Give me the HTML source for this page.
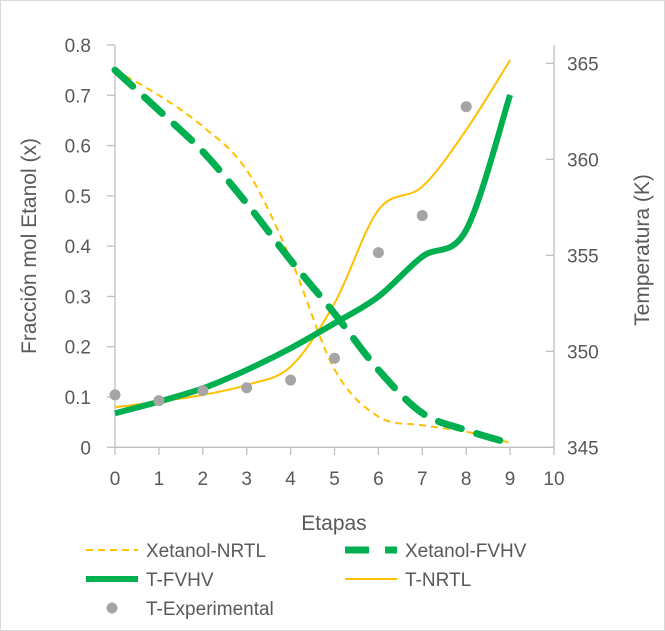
<!DOCTYPE html>
<html><head><meta charset="utf-8"><style>
body{margin:0;background:#fff}
svg{display:block;font-family:"Liberation Sans",sans-serif}
</style></head><body>
<svg id="c" width="665" height="631" viewBox="0 0 665 631">
<rect x="0.5" y="0.5" width="664" height="630" fill="#fff" stroke="#d9d9d9"/>
<g id="axes"></g><g id="series"></g><g id="legend"></g>
</svg>
<script>
const etapas=[0,1,2,3,4,5,6,7,8,9];
const xNRTL=[0.75,0.70,0.638,0.551,0.375,0.155,0.061,0.044,0.031,0.009];
const xFVHV=[0.75,0.67,0.588,0.485,0.372,0.266,0.154,0.068,0.034,0.008];
const tFVHV=[346.77,347.38,348.07,349.03,350.16,351.46,352.85,354.93,356.32,363.35];
const tNRTL=[347.08,347.38,347.73,348.25,349.2,352.5,357.36,358.58,361.53,365.17];
const expX=[0,1,2,3,4,5,6,7,8];
const tExp=[347.73,347.43,347.95,348.1,348.5,349.64,355.14,357.07,362.74];
const xTicks=[0,1,2,3,4,5,6,7,8,9,10];
const yTicks=[0,0.1,0.2,0.3,0.4,0.5,0.6,0.7,0.8];
const y2Ticks=[345,350,355,360,365];

const X=v=>115+v*43.9, Y=v=>447.3-v/0.8*402.3, Y2=v=>447.3-(v-345)*19.2;
const NS="http://www.w3.org/2000/svg";
function mk(t,a,p){const e=document.createElementNS(NS,t);for(const k in a)e.setAttribute(k,a[k]);p.appendChild(e);return e;}
const ax=document.getElementById('axes'),se=document.getElementById('series'),lg=document.getElementById('legend');
const G="#bfbfbf";
let e=mk('line',{x1:115,y1:447.3,x2:554,y2:447.3,stroke:G,'stroke-width':1.3},ax);

e=mk('line',{x1:115,y1:45,x2:115,y2:447.3,stroke:G,'stroke-width':1.3},ax);

e=mk('line',{x1:554,y1:45,x2:554,y2:447.3,stroke:G,'stroke-width':1.3},ax);

xTicks.forEach(v=>{mk('line',{x1:X(v),x2:X(v),y1:447,y2:455,stroke:G,'stroke-width':1.3},ax);
 const t=mk('text',{x:X(v),y:485,'text-anchor':'middle','font-size':19,fill:'#595959'},ax);t.textContent=v;
 });
yTicks.forEach(v=>{mk('line',{x1:107,x2:115,y1:Y(v),y2:Y(v),stroke:G,'stroke-width':1.3},ax);
 const t=mk('text',{x:91,y:Y(v)+7,'text-anchor':'end','font-size':19,fill:'#595959'},ax);t.textContent=v;
 });
y2Ticks.forEach(v=>{mk('line',{x1:546,x2:554,y1:Y2(v),y2:Y2(v),stroke:G,'stroke-width':1.3},ax);
 const t=mk('text',{x:567,y:Y2(v)+7,'font-size':19,fill:'#595959'},ax);t.textContent=v;
 });
e=mk('text',{x:334,y:530,'text-anchor':'middle','font-size':21,fill:'#595959'},ax);e.textContent='Etapas';

e=mk('text',{transform:'translate(36,246) rotate(-90)','text-anchor':'middle','font-size':21,fill:'#595959'},ax);e.textContent='Fracción mol Etanol (x)';

e=mk('text',{transform:'translate(649,250) rotate(-90)','text-anchor':'middle','font-size':21,fill:'#595959'},ax);e.textContent='Temperatura  (K)';


function path(xs,ys,fy){const p=xs.map((x,i)=>[X(x),fy(ys[i])]);let d=`M${p[0][0]},${p[0][1]}`;
 for(let i=0;i<p.length-1;i++){const p0=p[i-1]||p[i],p1=p[i],p2=p[i+1],p3=p[i+2]||p2;
 const c1=[p1[0]+(p2[0]-p0[0])/6,p1[1]+(p2[1]-p0[1])/6],c2=[p2[0]-(p3[0]-p1[0])/6,p2[1]-(p3[1]-p1[1])/6];
 d+=` C${c1},${c2},${p2}`;}return d;}
e=mk('path',{d:path(etapas,xNRTL,Y),fill:'none',stroke:'#ffc000','stroke-width':2,'stroke-dasharray':'7,5'},se);

e=mk('path',{d:path(etapas,tNRTL,Y2),fill:'none',stroke:'#ffc000','stroke-width':2},se);

e=mk('path',{d:path(etapas,xFVHV,Y),fill:'none',stroke:'#00b050','stroke-width':7,'stroke-dasharray':'24,16','stroke-linecap':'round'},se);

e=mk('path',{d:path(etapas,tFVHV,Y2),fill:'none',stroke:'#00b050','stroke-width':6},se);

expX.forEach((x,i)=>{const c=mk('circle',{cx:X(x),cy:Y2(tExp[i]),r:5.5,fill:'#a5a5a5'},se);
 });

function leg(x,y,label,kind){const g=mk('g',{},lg);
 
 if(kind==='dy')mk('line',{x1:x,x2:x+52,y1:y,y2:y,stroke:'#ffc000','stroke-width':2,'stroke-dasharray':'7,5'},g);
 if(kind==='dg')mk('line',{x1:x,x2:x+52,y1:y,y2:y,stroke:'#00b050','stroke-width':7,'stroke-dasharray':'24,16'},g);
 if(kind==='g')mk('line',{x1:x,x2:x+52,y1:y,y2:y,stroke:'#00b050','stroke-width':6},g);
 if(kind==='y')mk('line',{x1:x,x2:x+52,y1:y,y2:y,stroke:'#ffc000','stroke-width':2},g);
 if(kind==='p')mk('circle',{cx:x+26,cy:y,r:5.5,fill:'#a5a5a5'},g);
 const t=mk('text',{x:x+60,y:y+7,'font-size':19,fill:'#595959'},g);t.textContent=label;}
leg(86,550,'Xetanol-NRTL','dy');leg(345,550,'Xetanol-FVHV','dg');
leg(86,579,'T-FVHV','g');leg(345,579,'T-NRTL','y');leg(86,608,'T-Experimental','p');
</script>
</body></html>
